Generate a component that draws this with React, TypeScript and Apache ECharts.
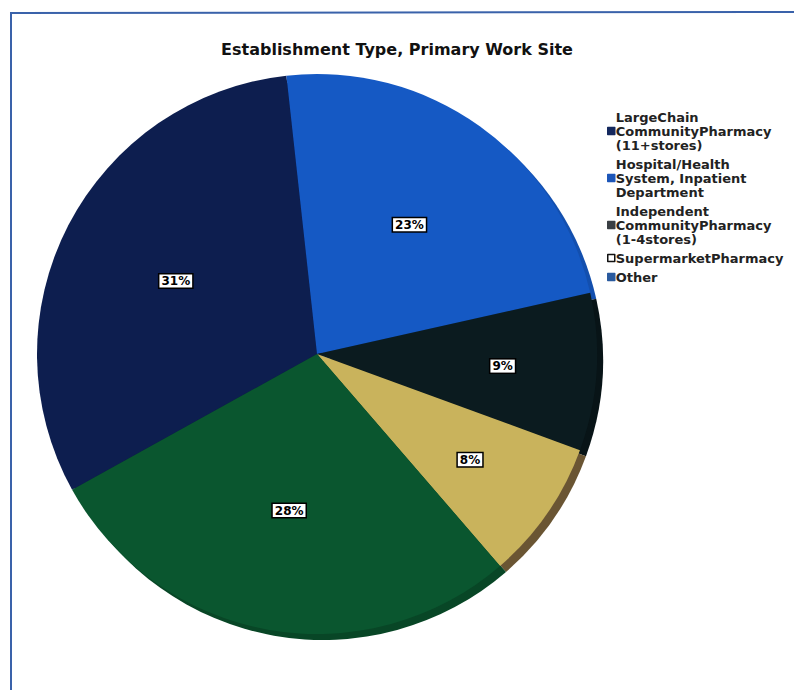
import React, { useEffect, useRef } from "react";
import * as echarts from "echarts";

const TITLE = "Establishment Type, Primary Work Site";
const categories = [
  "LargeChain\nCommunityPharmacy\n(11+stores)",
  "Hospital/Health\nSystem, Inpatient\nDepartment",
  "Independent\nCommunityPharmacy\n(1-4stores)",
  "SupermarketPharmacy",
  "Other",
];
const values = [31, 23, 9, 8, 28];
const sliceColors = ["#0d1e4f", "#1559c4", "#0b1b1f", "#c9b35c", "#0a562f"];
const sideColors = ["#0a1840", "#134fae", "#081417", "#6a5533", "#084626"];
const legendColors = ["#14285e", "#1d56b8", "#3a3f44", "#ffffff", "#2a5a9e"];
const legendBorders = ["#14285e", "#1d56b8", "#3a3f44", "#111111", "#2a5a9e"];
// labels placed further out for the narrow slices
const outerLabelSet = [false, false, true, true, false];

export default function App() {
  const ref = useRef<HTMLDivElement>(null);
  useEffect(() => {
    if (!ref.current) return;
    const chart = echarts.init(ref.current, null, { renderer: "svg" });
    const cx = 317;
    const cy = 354;
    const R = 280;
    const start = 209;
    const font = "DejaVu Sans, Verdana, sans-serif";
    const labelStyle = {
      show: true,
      position: "inside" as const,
      formatter: "{c}%",
      color: "#000",
      fontSize: 12,
      fontWeight: "bold" as const,
      fontFamily: font,
      backgroundColor: "#ffffff",
      borderColor: "#000",
      borderWidth: 1.5,
      padding: [1, 2, 0, 2],
    };
    const makeLabelSeries = (outer: boolean, r: number) => ({
      type: "pie",
      silent: true,
      legendHoverLink: false,
      center: [cx, cy],
      radius: [0, r],
      startAngle: start,
      clockwise: true,
      z: 5,
      itemStyle: { color: "rgba(0,0,0,0)", borderWidth: 0 },
      emphasis: { disabled: true },
      labelLine: { show: false },
      data: categories.map((name, i) => ({
        name,
        value: values[i],
        label: { ...labelStyle, show: outerLabelSet[i] === outer },
      })),
    });
    chart.setOption({
      animation: false,
      backgroundColor: "#ffffff",
      title: {
        text: TITLE,
        left: 392,
        top: 36,
        textAlign: "center",
        textStyle: {
          fontFamily: font,
          fontWeight: "bold",
          fontSize: 16,
          color: "#111",
        },
      },
      legend: {
        orient: "vertical",
        left: 602,
        top: 105,
        itemWidth: 7,
        itemHeight: 7,
        itemGap: 5,
        icon: "rect",
        selectedMode: false,
        textStyle: {
          fontFamily: font,
          fontWeight: "bold",
          fontSize: 13,
          lineHeight: 14,
          color: "#222",
          padding: [0, 0, 0, -4],
        },
        data: categories.map((name, i) => ({
          name,
          itemStyle: {
            color: legendColors[i],
            borderColor: legendBorders[i],
            borderWidth: 1.5,
          },
        })),
      },
      graphic: [
        {
          type: "line",
          shape: { x1: 11, y1: 13, x2: 11, y2: 690 },
          style: { stroke: "#3a62aa", lineWidth: 2 },
        },
        {
          type: "line",
          shape: { x1: 10, y1: 13, x2: 794, y2: 12 },
          style: { stroke: "#3a62aa", lineWidth: 2 },
        },
      ],
      series: [
        {
          type: "pie",
          silent: true,
          center: [cx + 6, cy + 6],
          radius: [0, R],
          startAngle: start,
          clockwise: true,
          z: 1,
          label: { show: false },
          labelLine: { show: false },
          emphasis: { disabled: true },
          itemStyle: { borderWidth: 0 },
          data: categories.map((name, i) => ({
            name,
            value: values[i],
            itemStyle: { color: sideColors[i] },
          })),
        },
        {
          type: "pie",
          silent: true,
          center: [cx, cy],
          radius: [0, R],
          startAngle: start,
          clockwise: true,
          z: 2,
          label: { show: false },
          labelLine: { show: false },
          emphasis: { disabled: true },
          itemStyle: { borderWidth: 0 },
          data: categories.map((name, i) => ({
            name,
            value: values[i],
            itemStyle: { color: sliceColors[i] },
          })),
        },
        makeLabelSeries(false, 312),
        makeLabelSeries(true, 366),
      ],
    });
    return () => chart.dispose();
  }, []);
  return (
    <div
      ref={ref}
      style={{ position: "fixed", left: 0, top: 0, width: 794, height: 690 }}
    />
  );
}
